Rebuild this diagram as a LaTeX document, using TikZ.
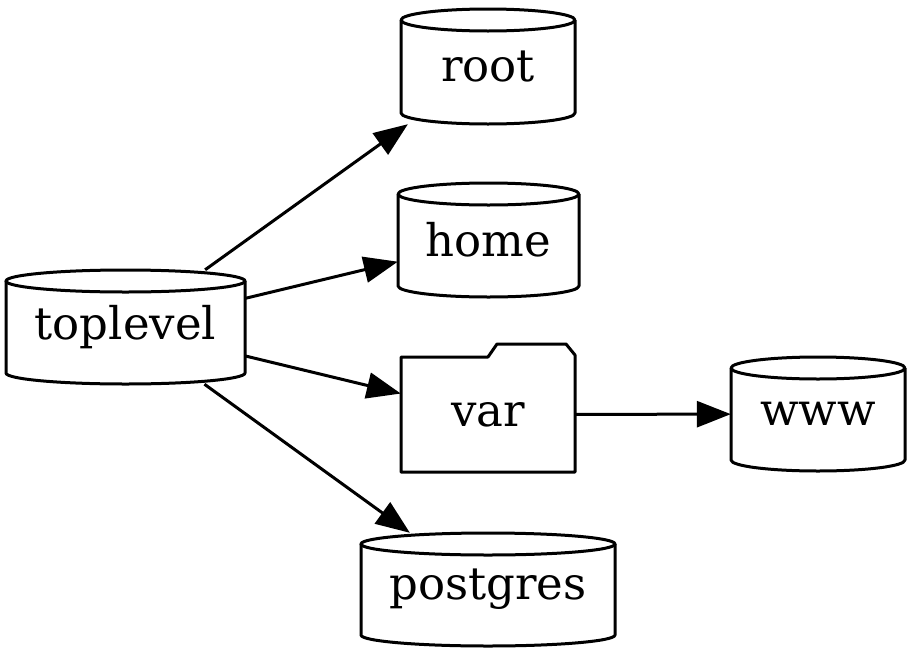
\documentclass[tikz,border=0pt]{standalone}
\usepackage{fontspec}
\setmainfont{DejaVu Serif}
\usetikzlibrary{arrows.meta}
\tikzset{
  outline/.style={line width=3pt, line join=round},
  lab/.style={inner sep=0pt, font=\fontsize{45}{50}\selectfont},
  edge/.style={line width=3pt, -{Triangle[length=34pt,width=26pt]}}
}
% x1 x2 y1 y2 ry name text
\newcommand\cylnode[7]{%
  \draw[outline] (#1,#3+#5) -- (#1,#4-#5)
    arc[start angle=180,end angle=360,x radius={(#2-#1)/2*1pt},y radius=#5pt]
    -- (#2,#3+#5);
  \draw[outline] ({(#1+#2)/2},#3+#5) ellipse[x radius={(#2-#1)/2*1pt}, y radius=#5pt];
  \node[lab, minimum width={(#2-#1)*1pt}, minimum height={(#4-#3)*1pt}] (#6) at ({(#1+#2)/2},{(#3+#4)/2}) {#7};
}
\begin{document}
\begin{tikzpicture}[x=1pt,y=-1pt]
\fill[white] (0,0) rectangle (911,651);
\useasboundingbox (0,0) rectangle (911,651);
\cylnode{401}{575}{9}{124}{11}{root}{root}
\cylnode{398}{579}{183}{297}{11}{home}{home}
\cylnode{6}{245}{270}{384}{11}{toplevel}{toplevel}
\cylnode{731}{905}{357}{471}{11}{www}{www}
\cylnode{361}{615}{533}{646}{11}{postgres}{postgres}
% folder
\draw[outline] (401,472) -- (401,357) -- (488,357) -- (497,344) -- (566,344) -- (575,355) -- (575,472) -- cycle;
\node[lab, minimum width=174pt, minimum height=115pt] (var) at (488,414.5) {var};
% edges
\draw[edge] (toplevel) -- (root);
\draw[edge] (toplevel) -- (home);
\draw[edge] (toplevel) -- (var);
\draw[edge] (toplevel) -- (postgres);
\draw[edge] (var) -- (www);
\end{tikzpicture}
\end{document}
